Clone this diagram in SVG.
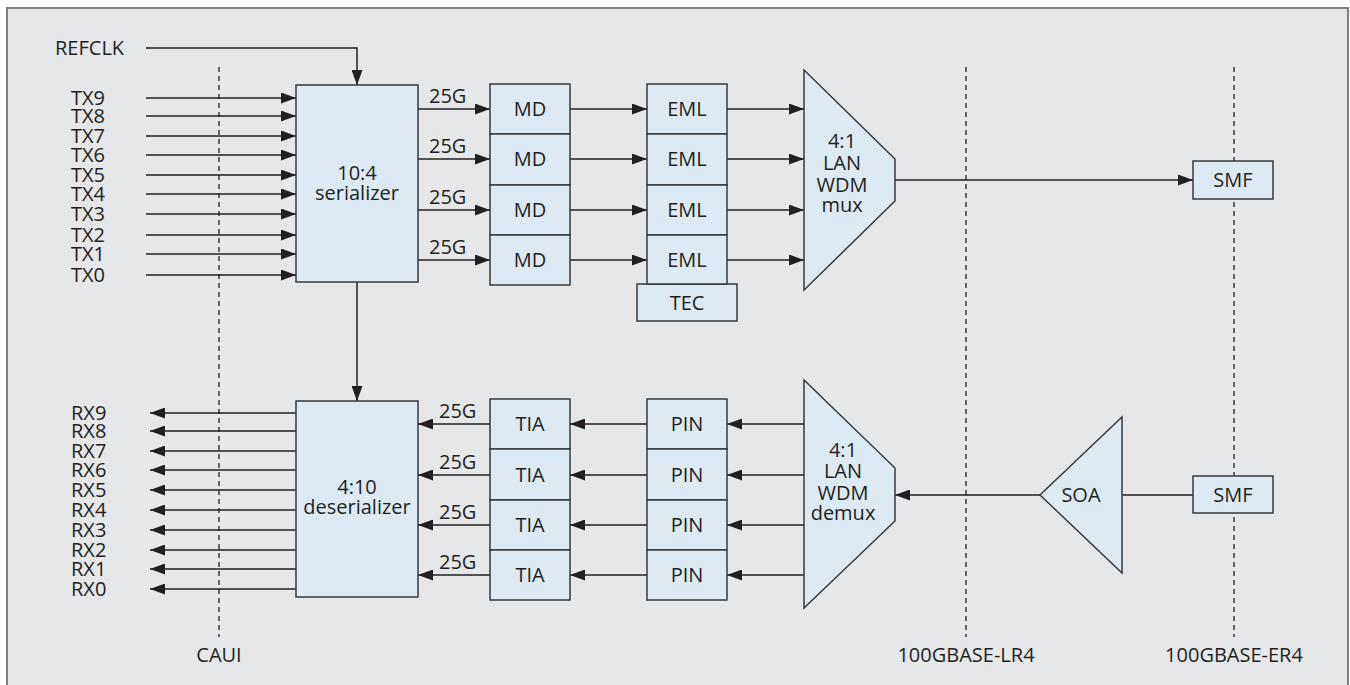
<svg xmlns="http://www.w3.org/2000/svg" width="1350" height="685" viewBox="0 0 1350 685">
<defs>
<marker id="ah" markerUnits="userSpaceOnUse" markerWidth="15" markerHeight="11" refX="15" refY="5.5" orient="auto">
<path d="M0,0 L15,5.5 L0,11 z" fill="#231f20"/>
</marker>
<style>
text{font-family:"Open Sans","Liberation Sans",sans-serif;font-size:20px;fill:#231f20}
.c{text-anchor:middle}
.box{fill:#ddeaf3;stroke:#3a3a3a;stroke-width:1.5}
.ln{stroke:#231f20;stroke-width:1.5;fill:none}
.ar{stroke:#231f20;stroke-width:1.5;fill:none;marker-end:url(#ah)}
.dash{stroke:#231f20;stroke-width:1.3;stroke-dasharray:5,4;fill:none}
</style>
</defs>
<rect x="0" y="0" width="1350" height="685" fill="#ffffff"/>
<rect x="7" y="8" width="1341" height="690" fill="#e6e7e8" stroke="#808080" stroke-width="2"/>

<g id="reference-lines">
<line class="dash" x1="219" y1="67" x2="219" y2="637"/>
<line class="dash" x1="966" y1="67" x2="966" y2="637"/>
<line class="dash" x1="1234" y1="67" x2="1234" y2="637"/>
<text class="c" x="219" y="662">CAUI</text>
<text class="c" x="966" y="662">100GBASE-LR4</text>
<text class="c" x="1234" y="662">100GBASE-ER4</text>
</g>

<g id="connectors">
<polyline class="ar" points="146,48 357,48 357,85"/>
<line class="ar" x1="357" y1="282" x2="357" y2="401"/>
<line class="ar" x1="146" y1="98" x2="296" y2="98"/>
<line class="ar" x1="146" y1="116" x2="296" y2="116"/>
<line class="ar" x1="146" y1="136" x2="296" y2="136"/>
<line class="ar" x1="146" y1="155" x2="296" y2="155"/>
<line class="ar" x1="146" y1="175" x2="296" y2="175"/>
<line class="ar" x1="146" y1="194" x2="296" y2="194"/>
<line class="ar" x1="146" y1="214" x2="296" y2="214"/>
<line class="ar" x1="146" y1="235" x2="296" y2="235"/>
<line class="ar" x1="146" y1="254" x2="296" y2="254"/>
<line class="ar" x1="146" y1="275" x2="296" y2="275"/>
<line class="ar" x1="296" y1="413" x2="150" y2="413"/>
<line class="ar" x1="296" y1="431" x2="150" y2="431"/>
<line class="ar" x1="296" y1="451" x2="150" y2="451"/>
<line class="ar" x1="296" y1="470" x2="150" y2="470"/>
<line class="ar" x1="296" y1="490" x2="150" y2="490"/>
<line class="ar" x1="296" y1="510" x2="150" y2="510"/>
<line class="ar" x1="296" y1="530" x2="150" y2="530"/>
<line class="ar" x1="296" y1="550" x2="150" y2="550"/>
<line class="ar" x1="296" y1="569" x2="150" y2="569"/>
<line class="ar" x1="296" y1="589" x2="150" y2="589"/>
<line class="ar" x1="418" y1="109" x2="490" y2="109"/>
<line class="ar" x1="418" y1="159" x2="490" y2="159"/>
<line class="ar" x1="418" y1="210" x2="490" y2="210"/>
<line class="ar" x1="418" y1="260" x2="490" y2="260"/>
<line class="ar" x1="570" y1="109" x2="647" y2="109"/>
<line class="ar" x1="570" y1="159" x2="647" y2="159"/>
<line class="ar" x1="570" y1="210" x2="647" y2="210"/>
<line class="ar" x1="570" y1="260" x2="647" y2="260"/>
<line class="ar" x1="727" y1="109" x2="804" y2="109"/>
<line class="ar" x1="727" y1="159" x2="804" y2="159"/>
<line class="ar" x1="727" y1="210" x2="804" y2="210"/>
<line class="ar" x1="727" y1="260" x2="804" y2="260"/>
<line class="ar" x1="895" y1="180" x2="1193" y2="180"/>
<line class="ar" x1="490" y1="424" x2="418" y2="424"/>
<line class="ar" x1="490" y1="475" x2="418" y2="475"/>
<line class="ar" x1="490" y1="525" x2="418" y2="525"/>
<line class="ar" x1="490" y1="575" x2="418" y2="575"/>
<line class="ar" x1="647" y1="424" x2="570" y2="424"/>
<line class="ar" x1="647" y1="475" x2="570" y2="475"/>
<line class="ar" x1="647" y1="525" x2="570" y2="525"/>
<line class="ar" x1="647" y1="575" x2="570" y2="575"/>
<line class="ar" x1="804" y1="424" x2="727" y2="424"/>
<line class="ar" x1="804" y1="475" x2="727" y2="475"/>
<line class="ar" x1="804" y1="525" x2="727" y2="525"/>
<line class="ar" x1="804" y1="575" x2="727" y2="575"/>
<line class="ar" x1="1040" y1="495" x2="895" y2="495"/>
<line class="ln" x1="1122" y1="495" x2="1193" y2="495"/>
<text x="55" y="55">REFCLK</text>
<text x="71" y="105">TX9</text>
<text x="71" y="123">TX8</text>
<text x="71" y="143">TX7</text>
<text x="71" y="162">TX6</text>
<text x="71" y="182">TX5</text>
<text x="71" y="201">TX4</text>
<text x="71" y="221">TX3</text>
<text x="71" y="242">TX2</text>
<text x="71" y="261">TX1</text>
<text x="71" y="282">TX0</text>
<text x="71" y="420">RX9</text>
<text x="71" y="438">RX8</text>
<text x="71" y="458">RX7</text>
<text x="71" y="477">RX6</text>
<text x="71" y="497">RX5</text>
<text x="71" y="517">RX4</text>
<text x="71" y="537">RX3</text>
<text x="71" y="557">RX2</text>
<text x="71" y="576">RX1</text>
<text x="71" y="596">RX0</text>
<text x="429" y="103">25G</text>
<text x="429" y="153">25G</text>
<text x="429" y="204">25G</text>
<text x="429" y="254">25G</text>
<text x="439" y="418">25G</text>
<text x="439" y="469">25G</text>
<text x="439" y="519">25G</text>
<text x="439" y="569">25G</text>
</g>

<g id="serializer">
<rect class="box" x="296" y="85" width="122" height="197"/>
<text class="c" x="357" y="180">10:4</text>
<text class="c" x="357" y="200">serializer</text>
</g>
<g id="deserializer">
<rect class="box" x="296" y="401" width="122" height="196"/>
<text class="c" x="357" y="494">4:10</text>
<text class="c" x="357" y="514">deserializer</text>
</g>

<g id="md1"><rect class="box" x="490" y="84" width="80" height="50"/><text class="c" x="530" y="116">MD</text></g>
<g id="md2"><rect class="box" x="490" y="134" width="80" height="51"/><text class="c" x="530" y="166">MD</text></g>
<g id="md3"><rect class="box" x="490" y="185" width="80" height="50"/><text class="c" x="530" y="217">MD</text></g>
<g id="md4"><rect class="box" x="490" y="235" width="80" height="50"/><text class="c" x="530" y="267">MD</text></g>

<g id="tec"><rect class="box" x="637" y="284" width="100" height="37"/><text class="c" x="687" y="310">TEC</text></g>
<g id="eml1"><rect class="box" x="647" y="84" width="80" height="50"/><text class="c" x="687" y="116">EML</text></g>
<g id="eml2"><rect class="box" x="647" y="134" width="80" height="51"/><text class="c" x="687" y="166">EML</text></g>
<g id="eml3"><rect class="box" x="647" y="185" width="80" height="50"/><text class="c" x="687" y="217">EML</text></g>
<g id="eml4"><rect class="box" x="647" y="235" width="80" height="49"/><text class="c" x="687" y="267">EML</text></g>

<g id="tia1"><rect class="box" x="490" y="399" width="80" height="50"/><text class="c" x="530" y="431">TIA</text></g>
<g id="tia2"><rect class="box" x="490" y="449" width="80" height="51"/><text class="c" x="530" y="482">TIA</text></g>
<g id="tia3"><rect class="box" x="490" y="500" width="80" height="50"/><text class="c" x="530" y="532">TIA</text></g>
<g id="tia4"><rect class="box" x="490" y="550" width="80" height="50"/><text class="c" x="530" y="582">TIA</text></g>

<g id="pin1"><rect class="box" x="647" y="399" width="80" height="50"/><text class="c" x="687" y="431">PIN</text></g>
<g id="pin2"><rect class="box" x="647" y="449" width="80" height="51"/><text class="c" x="687" y="482">PIN</text></g>
<g id="pin3"><rect class="box" x="647" y="500" width="80" height="50"/><text class="c" x="687" y="532">PIN</text></g>
<g id="pin4"><rect class="box" x="647" y="550" width="80" height="50"/><text class="c" x="687" y="582">PIN</text></g>

<g id="mux">
<polygon class="box" points="804,70 895,159 895,201 804,290"/>
<text class="c" x="842" y="148">4:1</text>
<text class="c" x="842" y="170">LAN</text>
<text class="c" x="842" y="192">WDM</text>
<text class="c" x="842" y="212">mux</text>
</g>
<g id="demux">
<polygon class="box" points="804,380 895,468 895,521 804,608"/>
<text class="c" x="843" y="457">4:1</text>
<text class="c" x="843" y="478">LAN</text>
<text class="c" x="843" y="500">WDM</text>
<text class="c" x="843" y="520">demux</text>
</g>
<g id="soa">
<polygon class="box" points="1040,495 1122,417 1122,573"/>
<text class="c" x="1081" y="502">SOA</text>
</g>
<g id="smf-tx"><rect class="box" x="1193" y="161" width="80" height="38"/><text class="c" x="1233" y="187">SMF</text></g>
<g id="smf-rx"><rect class="box" x="1193" y="476" width="80" height="37"/><text class="c" x="1233" y="502">SMF</text></g>
</svg>
